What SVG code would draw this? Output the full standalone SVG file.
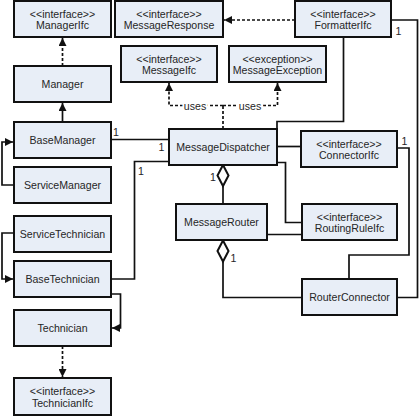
<svg xmlns="http://www.w3.org/2000/svg" width="419" height="416" viewBox="0 0 419 416">
<style>
.box{fill:#E8EEF7;stroke:#111;stroke-width:2}
.t{font-family:"Liberation Sans",Arial,sans-serif;font-size:10.6px;fill:#262626;text-anchor:middle}
.m{font-family:"Liberation Sans",Arial,sans-serif;font-size:10.6px;fill:#262626}
.c{fill:none;stroke:#111;stroke-width:1.7}
.d{fill:none;stroke:#111;stroke-width:1.7;stroke-dasharray:3 2}
.dia{fill:#fff;stroke:#111;stroke-width:2}
.u{font-family:"Liberation Sans",Arial,sans-serif;font-size:10.6px;fill:#262626;text-anchor:middle;stroke:#fff;stroke-width:4;paint-order:stroke}
</style>
<defs>
<marker id="arr" viewBox="0 0 10 10" refX="10" refY="5" markerWidth="8" markerHeight="8" markerUnits="userSpaceOnUse" orient="auto">
<path d="M0,0 L10,5 L0,10 z" fill="#111"/>
</marker>
</defs>
<rect width="419" height="416" fill="#fff"/>
<g id="connectors">
<path class="d" d="M62.5 66 V38" marker-end="url(#arr)"/>
<path class="c" d="M62.5 122 V103" marker-end="url(#arr)"/>
<path class="c" d="M14 185 H2 V142 H13" marker-end="url(#arr)"/>
<path class="c" d="M111 139.5 H169"/>
<path class="c" d="M169 161.5 H134.5 V279 H111"/>
<path class="c" d="M14 233 H2 V279 H13" marker-end="url(#arr)"/>
<path class="c" d="M111 294 H120.5 V328 H112" marker-end="url(#arr)"/>
<path class="d" d="M62.5 346 V377" marker-end="url(#arr)"/>
<path class="d" d="M223 129 V105.5"/>
<path class="d" d="M223 105.5 H169 V83" marker-end="url(#arr)"/>
<path class="d" d="M223 105.5 H277.5 V83" marker-end="url(#arr)"/>
<path class="d" d="M295 20 H224" marker-end="url(#arr)"/>
<path class="c" d="M277 129 V121.5 H343.5 V37"/>
<path class="c" d="M277 146.5 H301"/>
<path class="c" d="M277 162.5 H285.5 V222.5 H302"/>
<path class="c" d="M223 186 V204"/>
<path class="c" d="M267 234.5 H302"/>
<path class="c" d="M223 261.5 V297.5 H302"/>
<path class="c" d="M391 20 H417.5 V297.5 H397"/>
<path class="c" d="M397 148 H409 V255 H349 V279"/>
<polygon class="dia" points="223,165 228.5,175.5 223,186 217.5,175.5"/>
<polygon class="dia" points="223,240.5 228.5,251 223,261.5 217.5,251"/>
<text class="u" x="195" y="109.5">uses</text>
<text class="u" x="250" y="109.5">uses</text>
<text class="m" x="113" y="136">1</text>
<text class="m" x="158.5" y="150.5">1</text>
<text class="m" x="138" y="174.5">1</text>
<text class="m" x="210" y="181">1</text>
<text class="m" x="230.5" y="262">1</text>
<text class="m" x="395.5" y="34.5">1</text>
<text class="m" x="401.5" y="145">1</text>
</g>
<g id="ManagerIfc"><rect class="box" x="14" y="1" width="97" height="36"/><text class="t" x="62.5" y="17.7">&lt;&lt;interface&gt;&gt;</text><text class="t" x="62.5" y="29.3">ManagerIfc</text></g>
<g id="MessageResponse"><rect class="box" x="115" y="1" width="108" height="36"/><text class="t" x="169" y="17.7">&lt;&lt;interface&gt;&gt;</text><text class="t" x="169" y="29.3">MessageResponse</text></g>
<g id="FormatterIfc"><rect class="box" x="295" y="1" width="96" height="36"/><text class="t" x="343" y="17.7">&lt;&lt;interface&gt;&gt;</text><text class="t" x="343" y="29.3">FormatterIfc</text></g>
<g id="MessageIfc"><rect class="box" x="121" y="46" width="96" height="36"/><text class="t" x="169" y="62.7">&lt;&lt;interface&gt;&gt;</text><text class="t" x="169" y="74.3">MessageIfc</text></g>
<g id="MessageException"><rect class="box" x="229" y="46" width="97" height="36"/><text class="t" x="277.5" y="62.7">&lt;&lt;exception&gt;&gt;</text><text class="t" x="277.5" y="74.3">MessageException</text></g>
<g id="Manager"><rect class="box" x="14" y="66" width="97" height="36"/><text class="t" x="62.5" y="87.8">Manager</text></g>
<g id="BaseManager"><rect class="box" x="14" y="122" width="97" height="36"/><text class="t" x="62.5" y="143.8">BaseManager</text></g>
<g id="ServiceManager"><rect class="box" x="14" y="167" width="97" height="36"/><text class="t" x="62.5" y="188.8">ServiceManager</text></g>
<g id="MessageDispatcher"><rect class="box" x="169" y="129" width="108" height="36"/><text class="t" x="223" y="150.8">MessageDispatcher</text></g>
<g id="ConnectorIfc"><rect class="box" x="301" y="131" width="96" height="36"/><text class="t" x="349" y="147.7">&lt;&lt;interface&gt;&gt;</text><text class="t" x="349" y="159.3">ConnectorIfc</text></g>
<g id="MessageRouter"><rect class="box" x="176" y="204" width="91" height="36"/><text class="t" x="221.5" y="225.8">MessageRouter</text></g>
<g id="RoutingRuleIfc"><rect class="box" x="302" y="204" width="95" height="36"/><text class="t" x="349.5" y="220.7">&lt;&lt;interface&gt;&gt;</text><text class="t" x="349.5" y="232.3">RoutingRuleIfc</text></g>
<g id="ServiceTechnician"><rect class="box" x="14" y="216" width="97" height="36"/><text class="t" x="62.5" y="237.8">ServiceTechnician</text></g>
<g id="BaseTechnician"><rect class="box" x="14" y="261" width="97" height="36"/><text class="t" x="62.5" y="282.8">BaseTechnician</text></g>
<g id="Technician"><rect class="box" x="14" y="310" width="97" height="36"/><text class="t" x="62.5" y="331.8">Technician</text></g>
<g id="TechnicianIfc"><rect class="box" x="14" y="378" width="97" height="37"/><text class="t" x="62.5" y="395">&lt;&lt;interface&gt;&gt;</text><text class="t" x="62.5" y="406.8">TechnicianIfc</text></g>
<g id="RouterConnector"><rect class="box" x="302" y="279" width="95" height="36"/><text class="t" x="349.5" y="300.8">RouterConnector</text></g>
</svg>
